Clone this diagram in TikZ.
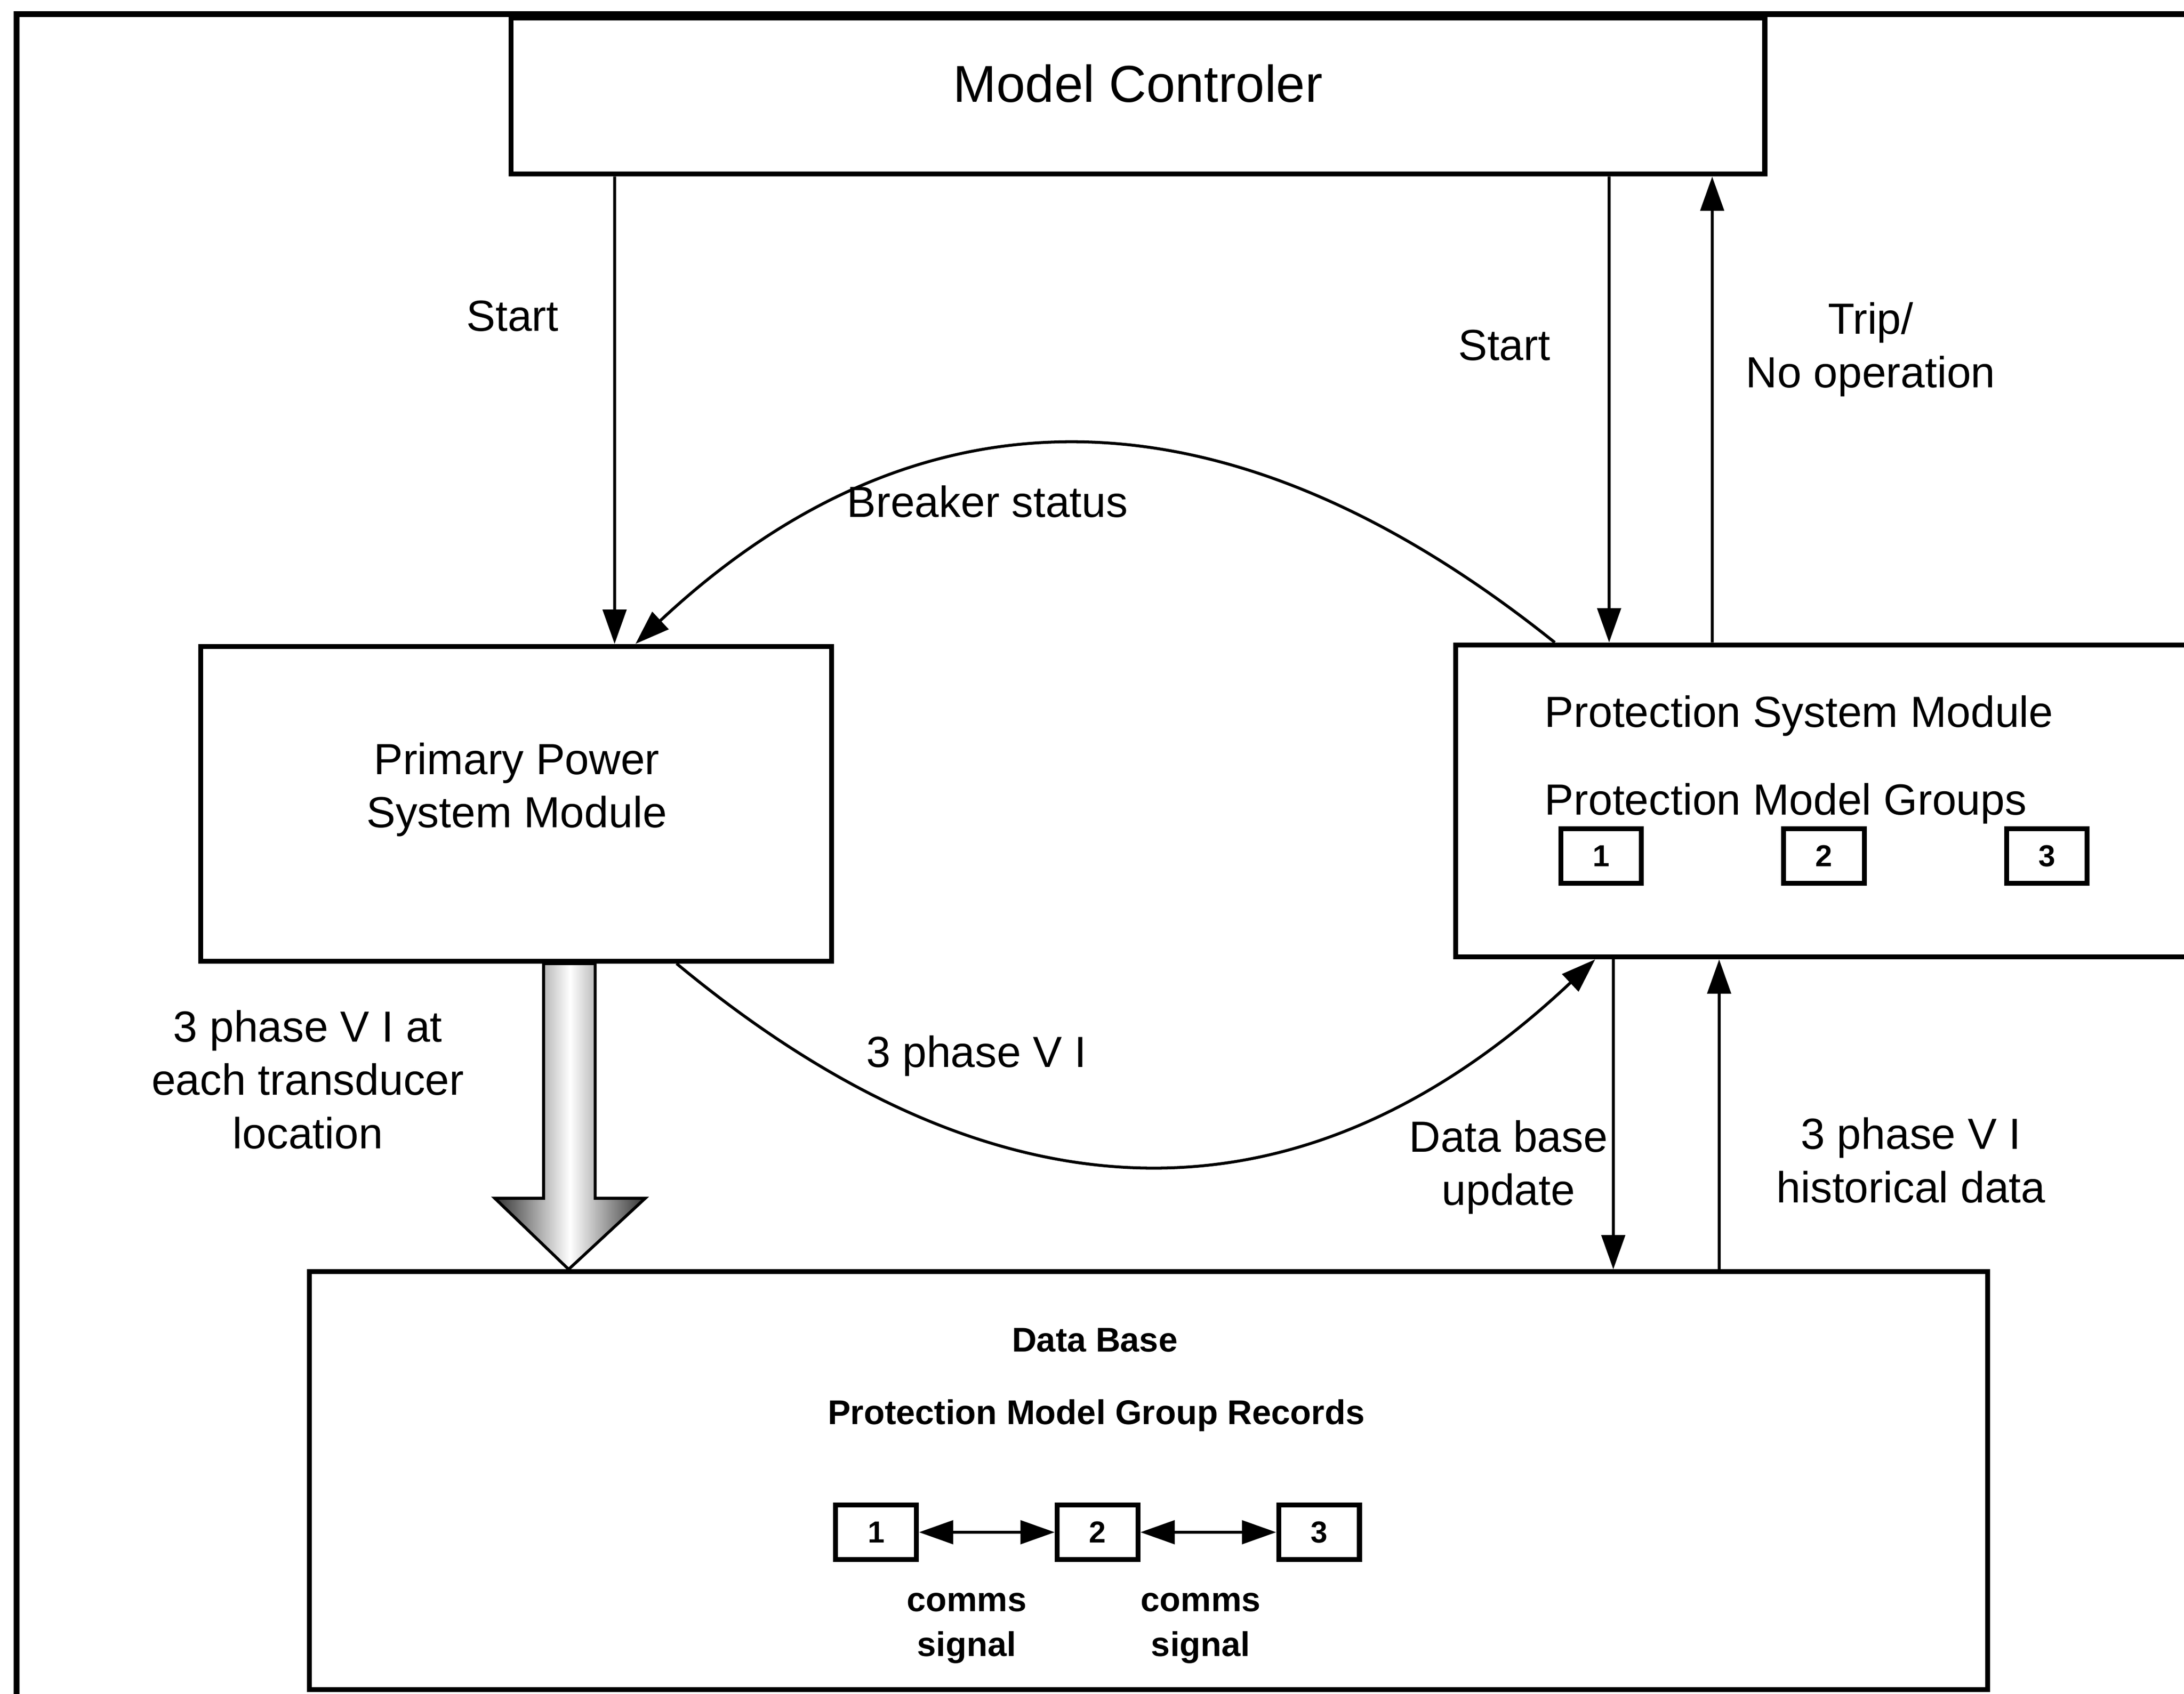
\documentclass[tikz,border=0pt]{standalone}
\usepackage{fontspec}
\setmainfont{Liberation Sans}
\usepackage{tikz}
\usetikzlibrary{positioning}
\usetikzlibrary{arrows.meta}

\begin{document}
\begin{tikzpicture}[>={Triangle[length=7pt,width=4.8pt]}, line width=0.6pt,   % filled heads
	                    node distance = 1.6cm, on grid]                          % group boxes
	\tikzset{module/.style = {draw, line width=1pt, inner sep=0pt},
	         grp/.style = {draw, line width=1pt, minimum width=0.58cm, minimum height=0.39cm,
	                       inner sep=0pt, font=\fontsize{6.2}{7}\selectfont\bfseries},
	         lbl/.style = {align=center, inner sep=0pt, font=\fontsize{8.9}{10.9}\selectfont},
	         dblbl/.style = {align=center, inner sep=0pt, font=\fontsize{7}{9.2}\selectfont\bfseries}}

	\useasboundingbox (0,0) rectangle (15.68,-12.16);
	\clip (0,0) rectangle (15.68,-12.16);
	\draw[line width=1.2pt] (0.12,-0.10) rectangle (16.2,-12.6);    % outer frame

	% modules
	\node[module, minimum width=9.00cm, minimum height=1.12cm] (mc) at (8.17,-0.69) {};
	\node[module, minimum width=4.53cm, minimum height=2.26cm] (pp) at (3.705,-5.77) {};
	\node[module, minimum width=5.60cm, minimum height=2.24cm] (psm) at (13.25,-5.75) {};
	\node[module, minimum width=12.05cm, minimum height=3.00cm] (db) at (8.245,-10.63) {};

	\node[inner sep=0pt, font=\fontsize{10.6}{12}\selectfont] (mctitle) at (8.17,-0.60) {Model Controler};
	\node[lbl] (pptitle) at (3.71,-5.67) {Primary Power\\System Module};
	\node[lbl, anchor=west] (psmtitle) at (11.08,-5.14) {Protection System Module};
	\node[lbl, anchor=west] (psmgroups) at (11.08,-5.77) {Protection Model Groups};
	\node[dblbl] (dbtitle) at (7.86,-9.62) {Data Base};
	\node[dblbl] (dbrecords) at (7.87,-10.16) {Protection Model Group Records};

	% protection model groups
	\node[grp] (p1) at (11.495,-6.145) {1};
	\node[grp] (p2) [right=of p1] {2};
	\node[grp] (p3) [right=of p2] {3};

	% group records
	\node[grp] (d1) at (6.29,-11.00) {1};
	\node[grp] (d2) [right=1.59cm of d1] {2};
	\node[grp] (d3) [right=1.59cm of d2] {3};
	\path[<->]
		(d1) edge (d2)
		(d2) edge (d3);
	\node[dblbl] (comms1) at (6.94,-11.69) {comms\\signal};
	\node[dblbl] (comms2) at (8.62,-11.69) {comms\\signal};

	% straight signals
	\path[->]
		([xshift=0.76cm]mc.south west)  edge ([xshift=2.99cm]pp.north west)
		([xshift=7.90cm]mc.south west)  edge ([xshift=1.12cm]psm.north west)
		([xshift=1.86cm]psm.north west) edge ([xshift=8.64cm]mc.south west)
		([xshift=1.15cm]psm.south west) edge ([xshift=9.38cm]db.north west)
		([xshift=10.14cm]db.north west) edge ([xshift=1.91cm]psm.south west);

	% curved signals
	\draw[->] ([xshift=0.73cm]psm.north west) .. controls +(-2.37,1.90) and +(2.03,1.90) .. ([xshift=3.14cm]pp.north west);
	\draw[->] ([xshift=-1.13cm]pp.south east) .. controls +(2.35,-1.95) and +(-2.07,-1.95) .. ([xshift=1.02cm]psm.south west);

	% wide transducer arrow
	\draw[line width=0.6pt, left color=black!80, right color=black!80, middle color=white]
		([xshift=2.48cm]pp.south west) -- ([xshift=1.70cm,yshift=0.51cm]db.north west)
		-- ([xshift=1.35cm,yshift=0.51cm]db.north west) -- ([xshift=1.88cm]db.north west)
		-- ([xshift=2.43cm,yshift=0.51cm]db.north west) -- ([xshift=2.07cm,yshift=0.51cm]db.north west)
		-- ([xshift=2.85cm]pp.south west) -- cycle;

	% labels
	\node[lbl] (startpp) at (3.68,-2.27) {Start};
	\node[lbl] (startpsm) at (10.80,-2.48) {Start};
	\node[lbl] (trip) at (13.43,-2.51) {Trip/\\No operation};
	\node[lbl] (breaker) at (7.09,-3.60) {Breaker status};
	\node[lbl] (phasevi) at (7.01,-7.58) {3 phase V I};
	\node[lbl] (transducer) at (2.21,-7.75) {3 phase V I at\\each transducer\\location};
	\node[lbl] (dbupdate) at (10.83,-8.38) {Data base\\update};
	\node[lbl] (historical) at (13.72,-8.33) {3 phase V I\\historical data};
\end{tikzpicture}
\end{document}
